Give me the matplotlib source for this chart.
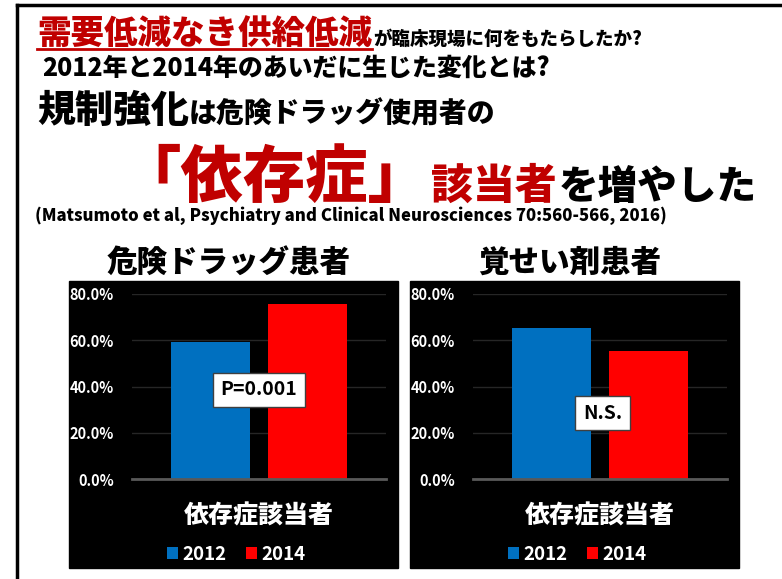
import matplotlib
matplotlib.use('Agg')
import matplotlib.pyplot as plt
from matplotlib.lines import Line2D
from matplotlib.patches import Rectangle

plt.rcParams['font.family'] = ['Noto Sans CJK JP', 'DejaVu Sans']

W, H = 782, 579

# データ
groups = ['危険ドラッグ患者', '覚せい剤患者']
category = '依存症該当者'
years = ['2012', '2014']
drug_pct = [0.592, 0.755]
stim_pct = [0.653, 0.554]
p_labels = ['P=0.001', 'N.S.']
yticks = [0.0, 0.2, 0.4, 0.6, 0.8]

colors = ['#0070C0', '#FF0000']
dark_red = '#C00000'

fig = plt.figure(figsize=(W / 100, H / 100), dpi=100)
fig.patch.set_facecolor('white')
rend = fig.canvas.get_renderer()


def put(x, y, s, size, color='black', width=None):
    # x, y en pixeles desde arriba a la izquierda (linea base)
    t = fig.text(x / W, 1 - y / H, s, fontsize=size, color=color,
                 fontweight='heavy', va='baseline', ha='left')
    bb = t.get_window_extent(rend)
    if width is not None:
        t.set_fontsize(size * width / bb.width)
        bb = t.get_window_extent(rend)
    return t, bb


# marco
fig.add_artist(Line2D([17 / W, 1], [1 - 5 / H, 1 - 5 / H], color='black', lw=2.5))
fig.add_artist(Line2D([17 / W, 17 / W], [0, 1 - 5 / H], color='black', lw=2.5))

# titulos
t, bb = put(37, 44, '需要低減なき供給低減', 24, dark_red, width=336)
fig.add_artist(Line2D([bb.x0 / W, bb.x1 / W], [1 - 49 / H, 1 - 49 / H], color=dark_red, lw=2))
put(bb.x1 + 1, 45, 'が臨床現場に何をもたらしたか?', 13, width=268)
put(42, 76, '2012年と2014年のあいだに生じた変化とは?', 18, width=508)
t, bb = put(37, 122, '規制強化', 27, width=152)
put(bb.x1, 122, 'は危険ドラッグ使用者の', 20, width=306)

t, bb = put(118, 197, '「依存症」', 45, dark_red, width=312)
t, bb = put(bb.x1 + 1, 199, '該当者', 32, dark_red, width=126)
put(bb.x1 + 2, 199, 'を増やした', 28, width=198)
put(35, 221, '(Matsumoto et al, Psychiatry and Clinical Neurosciences 70:560-566, 2016)', 11, width=633)

panels = [(69, 398), (410, 739)]
axes_x = [132, 473]
title_x = [229, 570]
data = [drug_pct, stim_pct]
note_pos = [(0.0, 0.385), (0.02, 0.285)]
offsets = [-0.38, 0.38]

for k in range(2):
    x0, x1 = panels[k]
    fig.add_artist(Rectangle((x0 / W, 1 - 568 / H), (x1 - x0) / W, (568 - 281) / H,
                             transform=fig.transFigure, color='black', zorder=-1))
    fig.text(title_x[k] / W, 1 - 262 / H, groups[k], fontsize=22, fontweight='heavy',
             ha='center', va='center')

    ax = fig.add_axes([axes_x[k] / W, 1 - 479 / H, 254 / W, 185 / H])
    ax.set_facecolor('black')
    for i, yr in enumerate(years):
        ax.bar(offsets[i], data[k][i], width=0.62, color=colors[i], label=yr, zorder=2)
    ax.set_xlim(-1, 1)
    ax.set_ylim(0, 0.8)
    ax.set_yticks(yticks)
    ax.set_yticklabels([f'{v * 100:.1f}%' for v in yticks], fontweight='bold', fontsize=10.5)
    ax.tick_params(axis='y', length=0, pad=13, colors='white')
    ax.yaxis.grid(True, color='#262626', lw=1)
    ax.set_axisbelow(True)
    for s in ['top', 'left', 'right']:
        ax.spines[s].set_visible(False)
    ax.spines['bottom'].set_color('#595959')
    ax.spines['bottom'].set_linewidth(2)
    ax.spines['bottom'].set_zorder(3)
    ax.set_xticks([0], [category], fontsize=18, fontweight='heavy')
    ax.tick_params(axis='x', length=0, pad=17, colors='white')

    nx, ny = note_pos[k]
    ax.text(nx, ny, p_labels[k], ha='center', va='center', fontsize=14, fontweight='bold',
            color='black', zorder=4,
            bbox=dict(boxstyle='square,pad=0.4', fc='white', ec='#404040', lw=1))

    ax.legend(loc='upper center', bbox_to_anchor=(0.41, -0.265), ncol=2, frameon=False,
              handlelength=0.6, handleheight=0.6, handletextpad=0.25, columnspacing=1.0,
              labelcolor='white', prop=dict(size=13.5, weight='bold'))

fig.savefig('out.png', dpi=100, facecolor='white')
